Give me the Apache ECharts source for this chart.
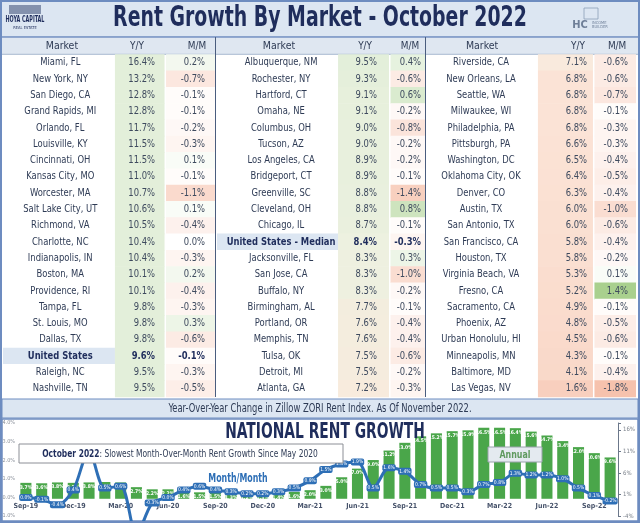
<!DOCTYPE html>
<html><head><meta charset="utf-8">
<script src="https://cdn.jsdelivr.net/npm/echarts@6/dist/echarts.min.js"></script>
<style>html,body{margin:0;padding:0;background:#fff}#c{width:640px;height:523px}</style>
</head><body><div id="c"></div>
<script>
const FONT = "'Liberation Sans Narrow','DejaVu Sans Condensed','Roboto',sans-serif";

// ---------- table data ----------
const marketsA = ['Miami, FL','New York, NY','San Diego, CA','Grand Rapids, MI','Orlando, FL','Louisville, KY','Cincinnati, OH','Kansas City, MO','Worcester, MA','Salt Lake City, UT','Richmond, VA','Charlotte, NC','Indianapolis, IN','Boston, MA','Providence, RI','Tampa, FL','St. Louis, MO','Dallas, TX','United States','Raleigh, NC','Nashville, TN'];
const yoyA = [16.4,13.2,12.8,12.8,11.7,11.5,11.5,11.0,10.7,10.6,10.5,10.4,10.4,10.1,10.1,9.8,9.8,9.8,9.6,9.5,9.5];
const momA = [0.2,-0.7,-0.1,-0.1,-0.2,-0.3,0.1,-0.1,-1.1,0.1,-0.4,0.0,-0.3,0.2,-0.4,-0.3,0.3,-0.6,-0.1,-0.3,-0.5];

const marketsB = ['Albuquerque, NM','Rochester, NY','Hartford, CT','Omaha, NE','Columbus, OH','Tucson, AZ','Los Angeles, CA','Bridgeport, CT','Greenville, SC','Cleveland, OH','Chicago, IL','United States - Median','Jacksonville, FL','San Jose, CA','Buffalo, NY','Birmingham, AL','Portland, OR','Memphis, TN','Tulsa, OK','Detroit, MI','Atlanta, GA'];
const yoyB = [9.5,9.3,9.1,9.1,9.0,9.0,8.9,8.9,8.8,8.8,8.7,8.4,8.3,8.3,8.3,7.7,7.6,7.6,7.5,7.5,7.2];
const momB = [0.4,-0.6,0.6,-0.2,-0.8,-0.2,-0.2,-0.1,-1.4,0.8,-0.1,-0.3,0.3,-1.0,-0.2,-0.1,-0.4,-0.4,-0.6,-0.2,-0.3];

const marketsC = ['Riverside, CA','New Orleans, LA','Seattle, WA','Milwaukee, WI','Philadelphia, PA','Pittsburgh, PA','Washington, DC','Oklahoma City, OK','Denver, CO','Austin, TX','San Antonio, TX','San Francisco, CA','Houston, TX','Virginia Beach, VA','Fresno, CA','Sacramento, CA','Phoenix, AZ','Urban Honolulu, HI','Minneapolis, MN','Baltimore, MD','Las Vegas, NV'];
const yoyC = [7.1,6.8,6.8,6.8,6.8,6.6,6.5,6.4,6.3,6.0,6.0,5.8,5.8,5.3,5.2,4.9,4.8,4.5,4.3,4.1,1.6];
const momC = [-0.6,-0.6,-0.7,-0.1,-0.3,-0.3,-0.4,-0.5,-0.4,-1.0,-0.6,-0.4,-0.2,0.1,1.4,-0.1,-0.5,-0.6,-0.1,-0.4,-1.8];

const headers = ['Market','Y/Y','M/M'];

// ---------- national chart data ----------
const months = ['Sep-19','Oct-19','Nov-19','Dec-19','Jan-20','Feb-20','Mar-20','Apr-20','May-20','Jun-20','Jul-20','Aug-20','Sep-20','Oct-20','Nov-20','Dec-20','Jan-21','Feb-21','Mar-21','Apr-21','May-21','Jun-21','Jul-21','Aug-21','Sep-21','Oct-21','Nov-21','Dec-21','Jan-22','Feb-22','Mar-22','Apr-22','May-22','Jun-22','Jul-22','Aug-22','Sep-22','Oct-22'];
const annualYoY = [3.7,3.6,3.8,3.7,3.8,3.9,3.8,2.7,2.2,2.2,1.6,1.5,1.5,1.3,1.2,1.3,1.4,1.6,2.0,3.0,5.0,7.0,9.0,11.2,13.0,14.5,15.2,15.7,15.9,16.5,16.5,16.4,15.6,14.7,13.4,12.0,10.6,9.6];
const monthMoM = [0.0,-0.1,-0.4,0.4,2.5,0.5,0.6,-2.0,-0.3,0.0,0.4,0.6,0.4,0.3,0.2,0.2,0.3,0.5,0.9,1.5,1.8,1.9,0.5,1.6,1.4,0.7,0.5,0.5,0.3,0.7,0.8,1.3,1.2,1.2,1.0,0.5,0.1,-0.2];

// ---------- styles / layout ----------
const NAVY = '#1f2d5c';
const TXT = '#2e3b55';
const NUM = '#3e4a5e';
const ROWS = 22, ROW_H = 16.3, TABLE_TOP = 38;
const SX = 0.85; // horizontal text compression to mimic condensed font
const groups = [
  {x:3,   w:212, m:0.528, y:0.762, mc:0.27,  yr:0.717, mr:0.953, hm:0.278, hy:0.632, hmm:0.915},
  {x:217, w:208, m:0.582, y:0.827, mc:0.308, yr:0.769, mr:0.981, hm:0.298, hy:0.712, hmm:0.928},
  {x:426, w:210, m:0.533, y:0.795, mc:0.262, yr:0.767, mr:0.962, hm:0.267, hy:0.724, hmm:0.91}
];

function hex(c){return [1,3,5].map(i=>parseInt(c.slice(i,i+2),16));}
function mix(a,b,t){t=Math.max(0,Math.min(1,t));const A=hex(a),B=hex(b);return 'rgb('+A.map((v,i)=>Math.round(v+(B[i]-v)*t)).join(',')+')';}
function yoyColor(v){
  if (v>=9.5) return '#e3efda';
  if (v>=8.4) return mix('#edf1e0','#e3efda',(v-8.4)/1.1);
  if (v>=7.1) return mix('#f9eadd','#edf1e0',(v-7.1)/1.3);
  return mix('#f8cfbe','#fbe4d7',(v-1.6)/5.5);
}
function momColor(v){
  if (v<0) return mix('#ffffff','#f6c2ad',-v/1.8);
  if (v>0) return mix('#ffffff','#a9d08e',v/1.4);
  return '#ffffff';
}
function txt(x,y,s,opt,sx){
  return {type:'text', x:x, y:y, scaleX:(sx||1), style:Object.assign({text:s, align:'center', verticalAlign:'middle', textAlign:'center', textVerticalAlign:'middle', fontFamily:FONT, fontSize:11, fill:TXT}, opt||{})};
}

function tableSeries(k, names, yoy, mom){
  const L = groups[k];
  return {
    type:'custom', coordinateSystem:'cartesian2d', xAxisIndex:k, yAxisIndex:k, silent:true, z:3,
    data: names.map((n,i)=>[0,i+1]), encode:{x:0,y:1},
    renderItem(params, api){
      const i = params.dataIndex, row = api.value(1);
      const cy = api.coord([0,row])[1], h = api.size([0,1])[1], top = cy-h/2;
      const X = f => api.coord([f,row])[0];
      const hl = names[i].indexOf('United States')===0;
      const ch = [];
      if (hl) ch.push({type:'rect', shape:{x:X(0), y:top, width:X(L.m)-X(0), height:h}, style:{fill:'#dce6f2'}});
      ch.push({type:'rect', shape:{x:X(L.m), y:top, width:X(L.y)-X(L.m), height:h+0.6}, style:{fill:yoyColor(yoy[i])}});
      ch.push({type:'rect', shape:{x:X(L.y)+1.5, y:top, width:X(1)-X(L.y)-1.5, height:h+0.6}, style:{fill:momColor(mom[i])}});
      const w = hl ? 'bold' : 'normal';
      ch.push(txt(X(L.mc), cy, names[i], {fill: hl?NAVY:TXT, fontWeight:w}, SX));
      ch.push(txt(X(L.yr), cy, yoy[i].toFixed(1)+'%', {align:'right', textAlign:'right', fill: hl?NAVY:NUM, fontWeight:w}, SX));
      ch.push(txt(X(L.mr), cy, mom[i].toFixed(1)+'%', {align:'right', textAlign:'right', fill: hl?NAVY:NUM, fontWeight:w}, SX));
      return {type:'group', children:ch};
    }
  };
}
function headerSeries(k){
  const L = groups[k];
  return {
    type:'custom', coordinateSystem:'cartesian2d', xAxisIndex:k, yAxisIndex:k, silent:true, z:3,
    data:[[0,0]], encode:{x:0,y:1},
    renderItem(params, api){
      const cy = api.coord([0,0])[1];
      const X = f => api.coord([f,0])[0];
      return {type:'group', children:[
        txt(X(L.hm), cy, headers[0], null, 0.95),
        txt(X(L.hy), cy, headers[1], null, 0.9),
        txt(X(L.hmm), cy, headers[2], null, 0.9)
      ]};
    }
  };
}

const grids = [], xAxes = [], yAxes = [];
[marketsA, marketsB, marketsC].forEach((names,k)=>{
  grids.push({left:groups[k].x, width:groups[k].w, top:TABLE_TOP, height:ROWS*ROW_H, outerBoundsMode:'none', containLabel:false});
  xAxes.push({type:'value', gridIndex:k, min:0, max:1, show:false});
  yAxes.push({type:'category', gridIndex:k, inverse:true, show:false, data:['header'].concat(names)});
});
// national chart grid: left axis -1..4 over 93px => zero 18.6px above bottom
grids.push({left:18, right:22, top:423, bottom:7, outerBoundsMode:'none', containLabel:false});
xAxes.push({type:'category', gridIndex:3, data:months, boundaryGap:true, position:'bottom', offset:-18.6,
  axisLine:{show:false, onZero:false},
  axisTick:{show:false},
  axisLabel:{interval:2, fontSize:7, fontWeight:'bold', color:'#46526a', fontFamily:FONT, margin:5}});
yAxes.push({type:'value', gridIndex:3, position:'left', min:-1, max:4, interval:1,
  axisLine:{show:false}, axisTick:{show:false}, splitLine:{show:false},
  axisLabel:{fontSize:5.5, color:'#8a909a', margin:3, fontFamily:FONT, formatter:v=>v.toFixed(1)+'%'}});
yAxes.push({type:'value', gridIndex:3, position:'right', min:-4, max:17.6, interval:5,
  axisLine:{show:true, lineStyle:{color:'#6b778a', width:1}}, axisTick:{show:true, length:3, lineStyle:{color:'#6b778a'}}, splitLine:{show:false},
  axisLabel:{fontSize:6, color:'#7a808a', margin:5, fontFamily:FONT,
    formatter:v=>{const r=Math.round(v);return (Math.abs(v-r)<1e-6 && ((r+4)%5===0)) ? r+'%' : '';}}});

const series = [
  headerSeries(0), headerSeries(1), headerSeries(2),
  tableSeries(0, marketsA, yoyA, momA),
  tableSeries(1, marketsB, yoyB, momB),
  tableSeries(2, marketsC, yoyC, momC),
  {type:'bar', xAxisIndex:3, yAxisIndex:4, data:annualYoY, barWidth:'70%', z:2,
   itemStyle:{color:'#4aa64a'},
   label:{show:true, position:'insideTop', distance:2, fontSize:5, color:'#ffffff', fontFamily:FONT, fontWeight:'bold', formatter:p=>p.value.toFixed(1)+'%'}},
  {type:'line', xAxisIndex:3, yAxisIndex:3, data:monthMoM, smooth:0.3, z:4, clip:false,
   symbol:'circle', symbolSize:4, itemStyle:{color:'#2e6fb6'}, lineStyle:{color:'#2e6fb6', width:3},
   label:{show:true, position:'inside', fontSize:5, color:'#ffffff', fontFamily:FONT, backgroundColor:'#2e6fb6', padding:[1,1], borderRadius:2,
     formatter:p=>p.value.toFixed(1)+'%'}}
];

const FRAME = '#6d8cc0';
const graphic = [
  // backgrounds
  {type:'rect', z:0, shape:{x:1,y:1,width:638,height:36}, style:{fill:'#dce6f2', stroke:FRAME, lineWidth:1.5}},
  {type:'rect', z:0, shape:{x:2,y:38,width:636,height:16.3}, style:{fill:'#dfe7f1'}},
  {type:'line', z:1, shape:{x1:2,y1:54.3,x2:638,y2:54.3}, style:{stroke:'#a8b9d0', lineWidth:1}},
  {type:'line', z:10, shape:{x1:215.5,y1:37,x2:215.5,y2:397}, style:{stroke:'#4a5d7e', lineWidth:1}},
  {type:'line', z:10, shape:{x1:425.5,y1:37,x2:425.5,y2:397}, style:{stroke:'#4a5d7e', lineWidth:1}},
  {type:'rect', z:0, shape:{x:2,y:399,width:636,height:19}, style:{fill:'#dce6f2', stroke:FRAME, lineWidth:1}},
  {type:'rect', z:0, shape:{x:2,y:419,width:636,height:102}, style:{fill:'#ffffff', stroke:FRAME, lineWidth:1.5}},
  {type:'rect', z:20, shape:{x:1,y:1,width:638,height:521}, style:{fill:'none', stroke:FRAME, lineWidth:2}},
  // title
  txt(320, 19, 'Rent Growth By Market - October 2022', {fontSize:28, fontWeight:'bold', fill:NAVY}, 0.75),
  // left logo
  {type:'rect', z:5, shape:{x:9,y:5,width:32,height:9}, style:{fill:'#3b4a74', opacity:0.55}},
  txt(25, 20, 'HOYA CAPITAL', {fontSize:9, fontWeight:'bold', fill:NAVY}, 0.6),
  txt(25, 28, 'REAL ESTATE', {fontSize:4, fill:NAVY}),
  // right logo
  {type:'rect', z:5, shape:{x:584,y:8,width:14,height:11}, style:{fill:'none', stroke:'#8aa0b8', lineWidth:0.8}},
  txt(580, 25, 'HC', {fontSize:11, fontWeight:'bold', fill:'#6f7f98'}),
  txt(592, 25, 'INCOME\nBUILDER', {fontSize:4, fill:'#6f7f98', align:'left', textAlign:'left'}),
  // subtitle band
  txt(320, 409, 'Year-Over-Year Change in Zillow ZORI Rent Index. As Of November 2022.', {fontSize:11.5, fill:TXT}, 0.81),
  // national chart annotations
  txt(325, 432, 'NATIONAL RENT GROWTH', {fontSize:22, fontWeight:'bold', fill:NAVY}, 0.7),
  {type:'rect', z:30, shape:{x:19,y:444,width:324,height:19}, style:{fill:'#ffffff', stroke:'#8c8f96', lineWidth:1}},
  {type:'text', z:31, x:180, y:454, scaleX:0.76, style:{text:'{b|October 2022}: Slowest Month-Over-Month Rent Growth Since May 2020', align:'center', verticalAlign:'middle', textAlign:'center', textVerticalAlign:'middle', fontFamily:FONT, fontSize:11, fill:TXT,
    rich:{b:{fontFamily:FONT, fontSize:11, fontWeight:'bold', fill:NAVY, color:NAVY}}}},
  txt(238, 479, 'Month/Month', {fontSize:12, fontWeight:'bold', fill:'#2e6fb6'}, 0.73),
  {type:'rect', z:30, shape:{x:488,y:447,width:54,height:15}, style:{fill:'#e4eaf0', stroke:'#9aa2ac', lineWidth:1}},
  txt(515, 455, 'Annual', {fontSize:11, fontWeight:'bold', fill:'#5f9a5f'}, 0.8)
];
graphic.forEach(g=>{ if (g.z===undefined) g.z = 30; });

const chart = echarts.init(document.getElementById('c'), null, {renderer:'canvas'});
chart.setOption({
  animation:false, backgroundColor:'#ffffff',
  grid:grids, xAxis:xAxes, yAxis:yAxes, series:series, graphic:{elements:graphic}
});
</script></body></html>
